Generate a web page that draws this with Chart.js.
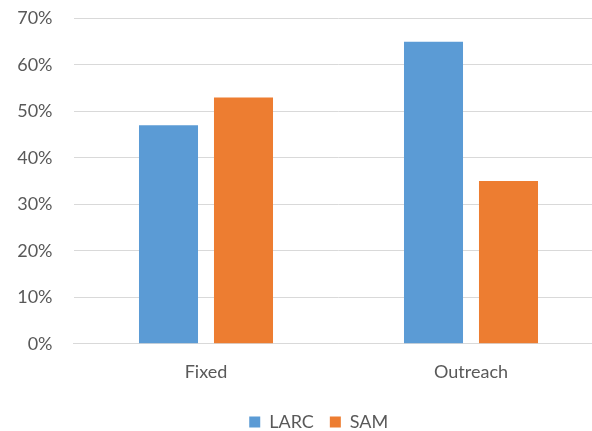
<!DOCTYPE html>
<html>
<head>
<meta charset="utf-8">
<script src="https://cdn.jsdelivr.net/npm/chart.js@4.4.1/dist/chart.umd.min.js"></script>
<style>
  html, body { margin: 0; padding: 0; background: #fff; overflow: hidden; }
  #wrap { width: 592px; height: 431px; overflow: hidden; }
  #box { width: 620px; height: 441px; }
</style>
</head>
<body>
<div id="wrap"><div id="box"><canvas id="chart"></canvas></div></div>
<script>
const categories = ['Fixed', 'Outreach'];
const larcValues = [47, 65];
const samValues  = [53, 35];
const yTicks     = [0, 10, 20, 30, 40, 50, 60, 70];

const font = "Lato, 'Open Sans', sans-serif";
const tick = '#595959';
const grid = '#d9d9d9';

// the original legend sits a bit right of centre
const legendShift = {
  id: 'legendShift',
  afterLayout: chart => {
    if (!chart.legend) return;
    chart.legend.left += 17;
    chart.legend.right += 17;
  },
};

new Chart(document.getElementById('chart'), {
  type: 'bar',
  data: {
    labels: categories,
    datasets: [
      { label: 'LARC', data: larcValues, backgroundColor: '#5b9bd5' },
      { label: 'SAM',  data: samValues,  backgroundColor: '#ed7d31' },
    ],
  },
  plugins: [legendShift],
  options: {
    responsive: true,
    maintainAspectRatio: false,
    animation: false,
    devicePixelRatio: 1,
    categoryPercentage: 0.566,
    barPercentage: 0.787,
    // plot runs past the right edge of the crop, like the original
    layout: { padding: { top: 18.5, right: 16.5, left: 0, bottom: 0 } },
    plugins: {
      legend: {
        position: 'bottom',
        labels: { color: tick, font: { family: font, size: 18 }, boxWidth: 11, boxHeight: 11, padding: 16 },
      },
      tooltip: { enabled: false },
    },
    scales: {
      x: {
        ticks: { color: tick, font: { family: font, size: 18 }, padding: 10 },
        grid: { display: false },
        border: { color: grid },
        afterFit: s => { s.height = 53.3; },
      },
      y: {
        min: 0, max: 70,
        afterBuildTicks: s => { s.ticks = yTicks.map(v => ({ value: v })); },
        ticks: { color: tick, font: { family: font, size: 18 }, padding: 21, callback: v => v + '%' },
        grid: { color: grid, drawTicks: false },
        border: { display: false },
        afterFit: s => { s.width = 73.5; s.paddingTop = 0; s.paddingBottom = 0; },
      },
    },
  },
});
</script>
</body>
</html>
